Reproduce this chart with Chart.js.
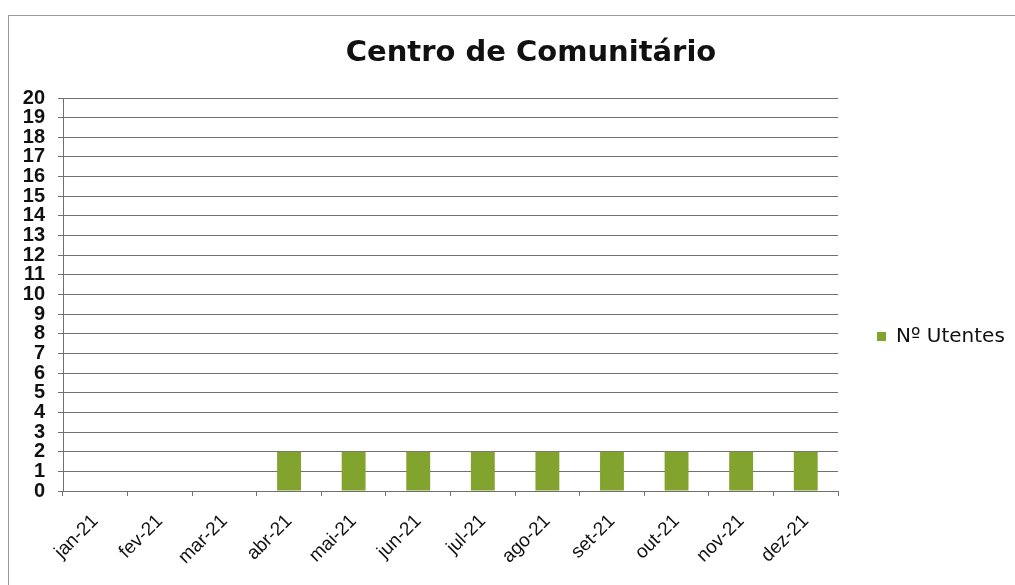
<!DOCTYPE html>
<html>
<head>
<meta charset="utf-8">
<script src="https://cdn.jsdelivr.net/npm/chart.js@4"></script>
<style>
  body { margin: 0; background: #fff; overflow: hidden; }
  #wrap { position: relative; width: 1015px; height: 585px; overflow: hidden; }
  #frame { position: absolute; left: 8px; top: 15px; right: -2px; bottom: -2px; border-top: 1px solid #9a9a9a; border-left: 1px solid #9a9a9a; }
  canvas { position: absolute; left: 0; top: 0; }
</style>
</head>
<body>
<div id="wrap">
  <div id="frame"></div>
  <canvas id="chart" width="1015" height="585"></canvas>
</div>
<script>
const months = ['jan-21', 'fev-21', 'mar-21', 'abr-21', 'mai-21', 'jun-21',
                'jul-21', 'ago-21', 'set-21', 'out-21', 'nov-21', 'dez-21'];
const utentes = [0, 0, 0, 2, 2, 2, 2, 2, 2, 2, 2, 2];
const yMin = 0;
const yMax = 20;
const yStep = 1;

const font = "'Liberation Sans', Arial, sans-serif";
const wideFont = "'DejaVu Sans', Verdana, sans-serif";
const gridColor = '#707070';

new Chart(document.getElementById('chart'), {
    type: 'bar',
    data: {
        labels: months,
        datasets: [{
            label: 'N\u00ba Utentes',
            data: utentes,
            backgroundColor: '#82a42e',
            barPercentage: 0.37,
            categoryPercentage: 1
        }]
    },
    options: {
        responsive: false,
        animation: false,
        layout: { padding: { left: 47.2, right: 0.2, top: 15, bottom: 0 } },
        plugins: {
            title: {
                display: true,
                text: 'Centro de Comunit\u00e1rio',
                color: '#111',
                font: { family: wideFont, size: 29, weight: 'bold' },
                padding: { top: 21, bottom: 27.2 }
            },
            legend: {
                position: 'right',
                // empty title only pushes the single item down a little
                title: { display: true, text: '', padding: { top: 72, bottom: 0 }, font: { size: 1 } },
                labels: {
                    color: '#111',
                    font: { family: wideFont, size: 20 },
                    boxWidth: 9,
                    boxHeight: 9,
                    padding: 39
                }
            },
            tooltip: { enabled: false }
        },
        scales: {
            x: {
                grid: { drawOnChartArea: false, drawTicks: true, tickLength: 5, offset: true, color: gridColor },
                border: { color: gridColor },
                ticks: {
                    color: '#111',
                    font: { family: font, size: 19 },
                    padding: 14,
                    minRotation: 45,
                    maxRotation: 45,
                    autoSkip: false
                },
                afterFit: (scale) => { scale.height = 94; }
            },
            y: {
                min: yMin,
                max: yMax,
                grid: { color: gridColor, tickLength: 5 },
                border: { color: gridColor },
                ticks: {
                    stepSize: yStep,
                    autoSkip: false,
                    color: '#111',
                    mirror: true,
                    crossAlign: 'far',
                    padding: -40.2,
                    font: { family: font, size: 20, weight: 'bold' }
                },
                afterFit: (scale) => { scale.width = 15.8; }
            }
        }
    }
});
</script>
</body>
</html>
